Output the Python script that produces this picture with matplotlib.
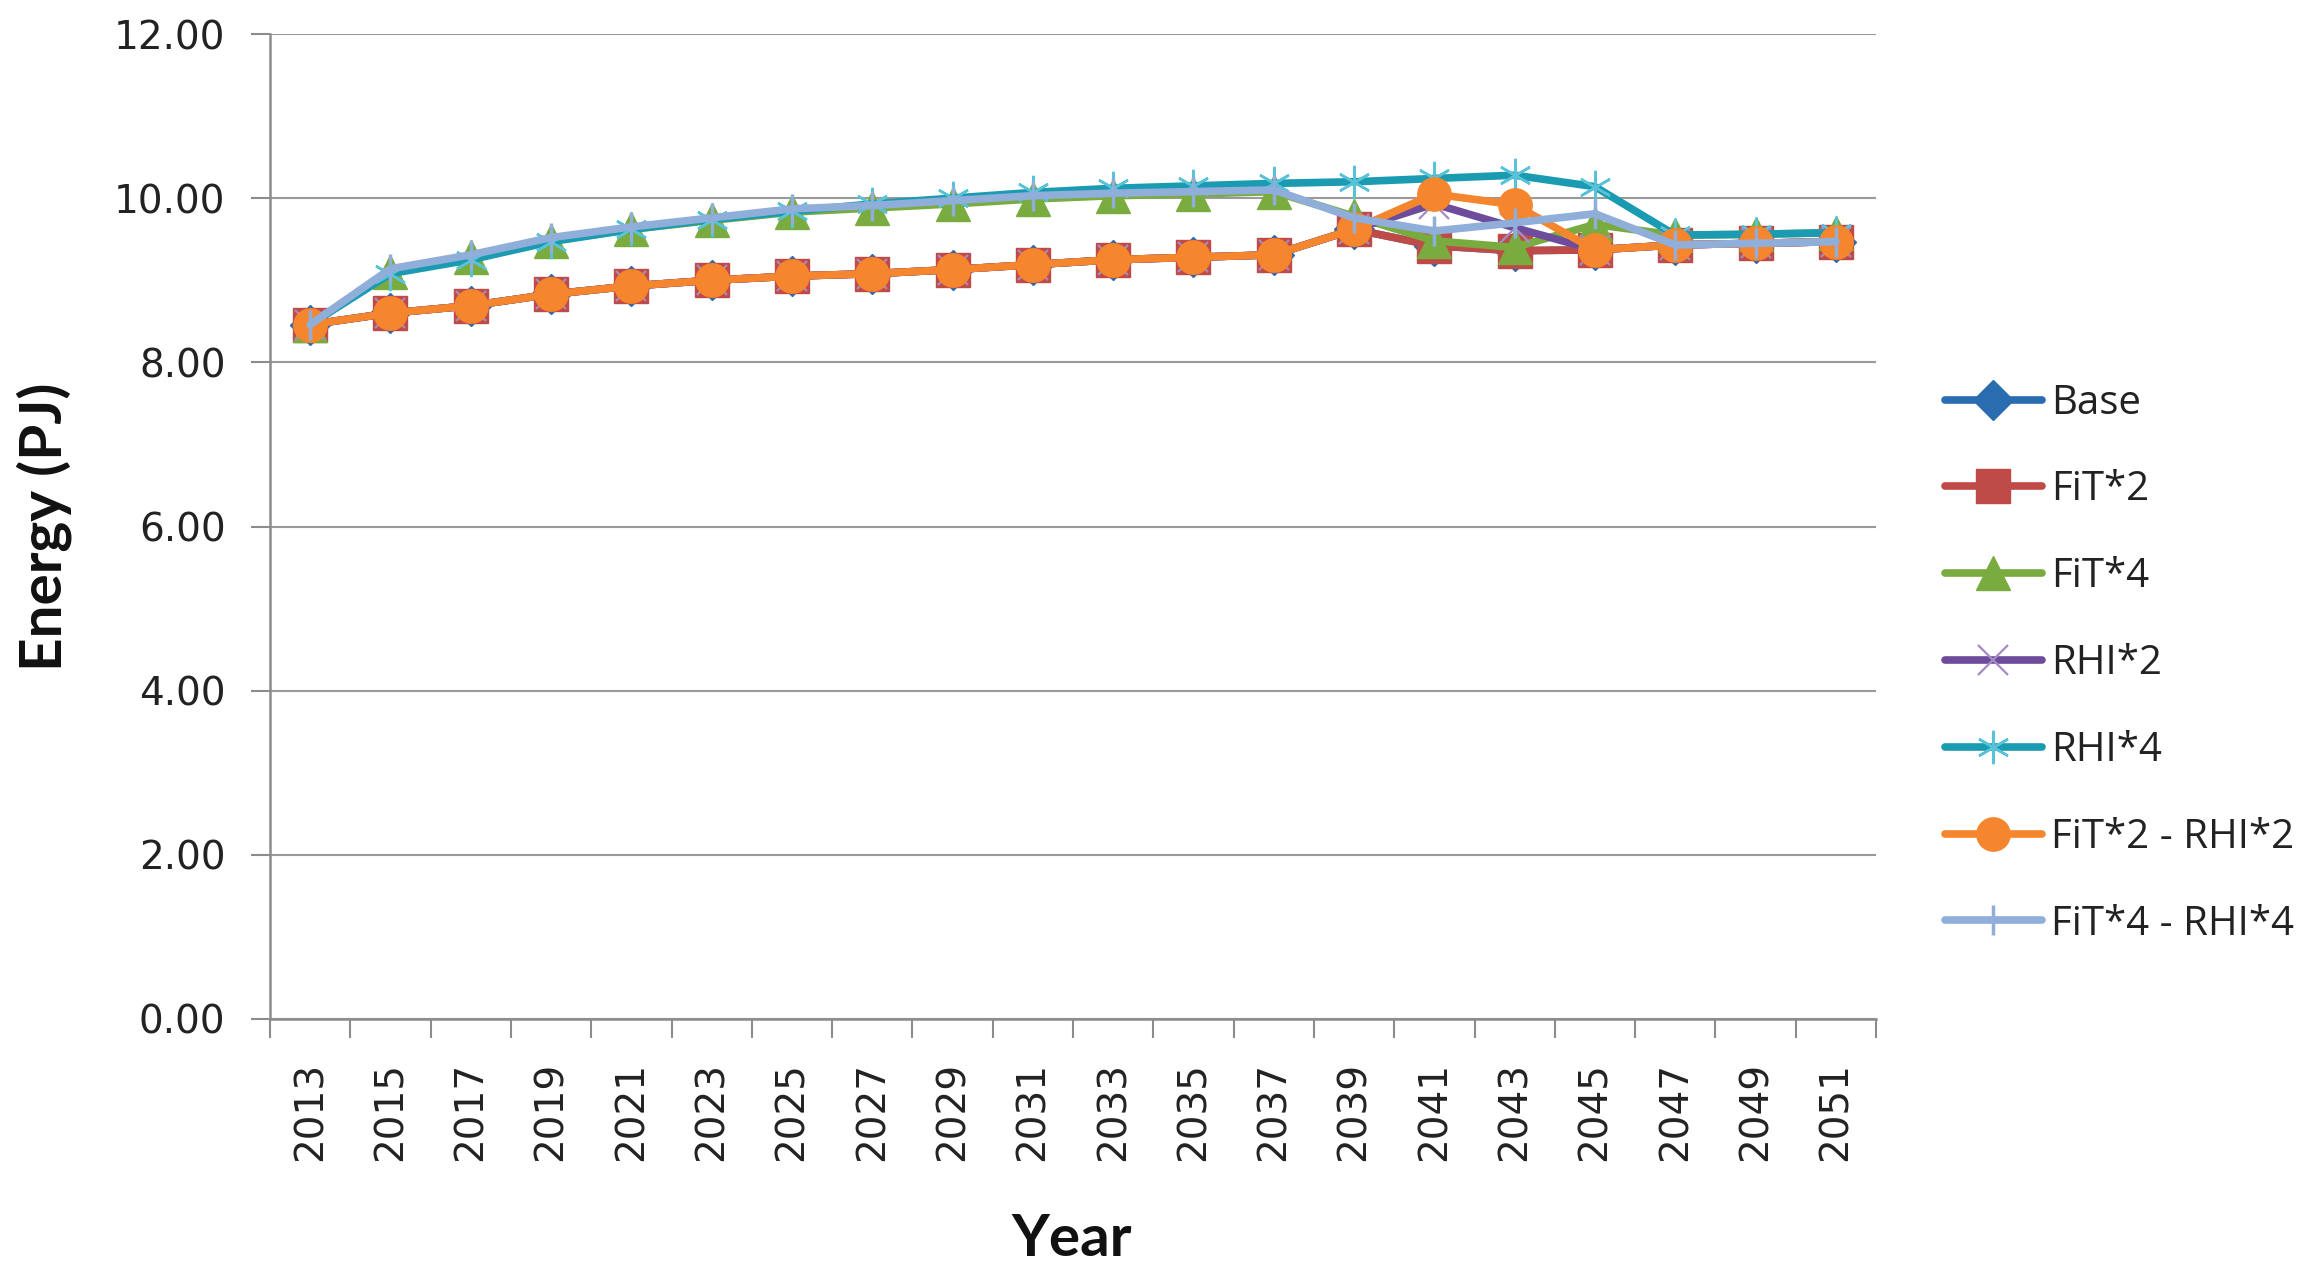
import matplotlib
matplotlib.use("Agg")
import matplotlib.pyplot as plt
import numpy as np

years = [str(y) for y in range(2013, 2052, 2)]
base      = [8.46, 8.60, 8.69, 8.83, 8.93, 9.00, 9.05, 9.08, 9.13, 9.19, 9.25, 9.28, 9.31, 9.62, 9.42, 9.36, 9.37, 9.43, 9.45, 9.47]
fit2      = [8.46, 8.60, 8.69, 8.83, 8.93, 9.00, 9.05, 9.08, 9.13, 9.19, 9.25, 9.28, 9.31, 9.62, 9.42, 9.36, 9.37, 9.43, 9.45, 9.47]
fit4      = [8.46, 9.10, 9.28, 9.48, 9.62, 9.73, 9.83, 9.88, 9.93, 9.99, 10.03, 10.05, 10.08, 9.78, 9.48, 9.40, 9.68, 9.55, 9.56, 9.58]
rhi2      = [8.46, 8.60, 8.69, 8.83, 8.93, 9.00, 9.05, 9.08, 9.13, 9.19, 9.25, 9.28, 9.31, 9.62, 9.93, 9.64, 9.37, 9.43, 9.45, 9.47]
rhi4      = [8.46, 9.08, 9.25, 9.47, 9.62, 9.74, 9.84, 9.93, 10.00, 10.07, 10.12, 10.15, 10.18, 10.20, 10.24, 10.28, 10.14, 9.55, 9.56, 9.58]
fit2_rhi2 = [8.46, 8.60, 8.69, 8.83, 8.93, 9.00, 9.05, 9.08, 9.13, 9.19, 9.25, 9.28, 9.31, 9.62, 10.05, 9.92, 9.37, 9.43, 9.45, 9.47]
fit4_rhi4 = [8.46, 9.14, 9.31, 9.52, 9.65, 9.76, 9.87, 9.91, 9.97, 10.03, 10.06, 10.08, 10.10, 9.76, 9.60, 9.70, 9.81, 9.43, 9.45, 9.47]

series_names = ["Base", "FiT*2", "FiT*4", "RHI*2", "RHI*4", "FiT*2 - RHI*2", "FiT*4 - RHI*4"]
series_vals = [base, fit2, fit4, rhi2, rhi4, fit2_rhi2, fit4_rhi4]
y_ticks = [0, 2, 4, 6, 8, 10, 12]

styles = [
    dict(color="#2A6CB0", marker="D", ms=20, mfc="#2A6CB0", mec="#2A6CB0"),
    dict(color="#BE4B48", marker="s", ms=24, mfc="#BE4B48", mec="#BE4B48"),
    dict(color="#7AAB3E", marker="^", ms=24, mfc="#7AAB3E", mec="#7AAB3E"),
    dict(color="#6E4C9C", marker="x", ms=22, mfc="none", mec="#A38CC6", mew=1.6),
    dict(color="#1A9BB2", marker=(6, 2, 0), ms=24, mfc="none", mec="#58C3D8", mew=1.8),
    dict(color="#F5862D", marker="o", ms=24, mfc="#F5862D", mec="#F5862D"),
    dict(color="#8FAEDA", marker="|", ms=22, mfc="#8FAEDA", mec="#8FAEDA", mew=2.5),
]

fig = plt.figure(figsize=(23.16, 12.77), dpi=100)
ax = fig.add_axes([270/2316, 1-1019/1277, (1876-270)/2316, (1019-34)/1277])

x = np.arange(len(years))
for name, vals, st in zip(series_names, series_vals, styles):
    ax.plot(x, vals, label=name, lw=5.5, solid_capstyle="round", **st)

ax.set_xlim(-0.5, len(years) - 0.5)
ax.set_ylim(0, 12)
ax.set_yticks(y_ticks)
ax.set_yticklabels([f"{v:.2f}" for v in y_ticks], fontsize=28, color="#222222")
ax.set_xticks(x)
ax.set_xticklabels(years, rotation=90, fontsize=28, color="#222222")
ax.set_xticks(np.arange(-0.5, len(years), 1), minor=True)
ax.tick_params(axis="x", which="major", length=0, pad=31)
ax.tick_params(axis="x", which="minor", length=14, width=1.5, color="#8C8C8C")
ax.tick_params(axis="y", length=14, width=1.5, color="#8C8C8C", pad=18)

ax.grid(axis="y", color="#9A9A9A", lw=1.5)
ax.set_axisbelow(True)
for s in ["top", "right"]:
    ax.spines[s].set_visible(False)
for s in ["left", "bottom"]:
    ax.spines[s].set_color("#8C8C8C")
    ax.spines[s].set_linewidth(1.8)

fig.text(44/2316, 1-527/1277, "Energy (PJ)", rotation=90, fontsize=42, fontweight="bold",
         family="Lato", ha="center", va="center", color="#111111")
fig.text(1072/2316, 1-1239/1277, "Year", fontsize=42, fontweight="bold",
         family="Lato", ha="center", va="center", color="#111111")

leg = ax.legend(loc="upper left", bbox_to_anchor=(1929/2316, 1-367/1277),
                bbox_transform=fig.transFigure, frameon=False,
                prop={"family": "Open Sans", "size": 29},
                handlelength=2.4, labelspacing=1.15, handletextpad=0.22, borderaxespad=0)
for t in leg.get_texts():
    t.set_color("#222222")

fig.savefig("out.png", dpi=100)
